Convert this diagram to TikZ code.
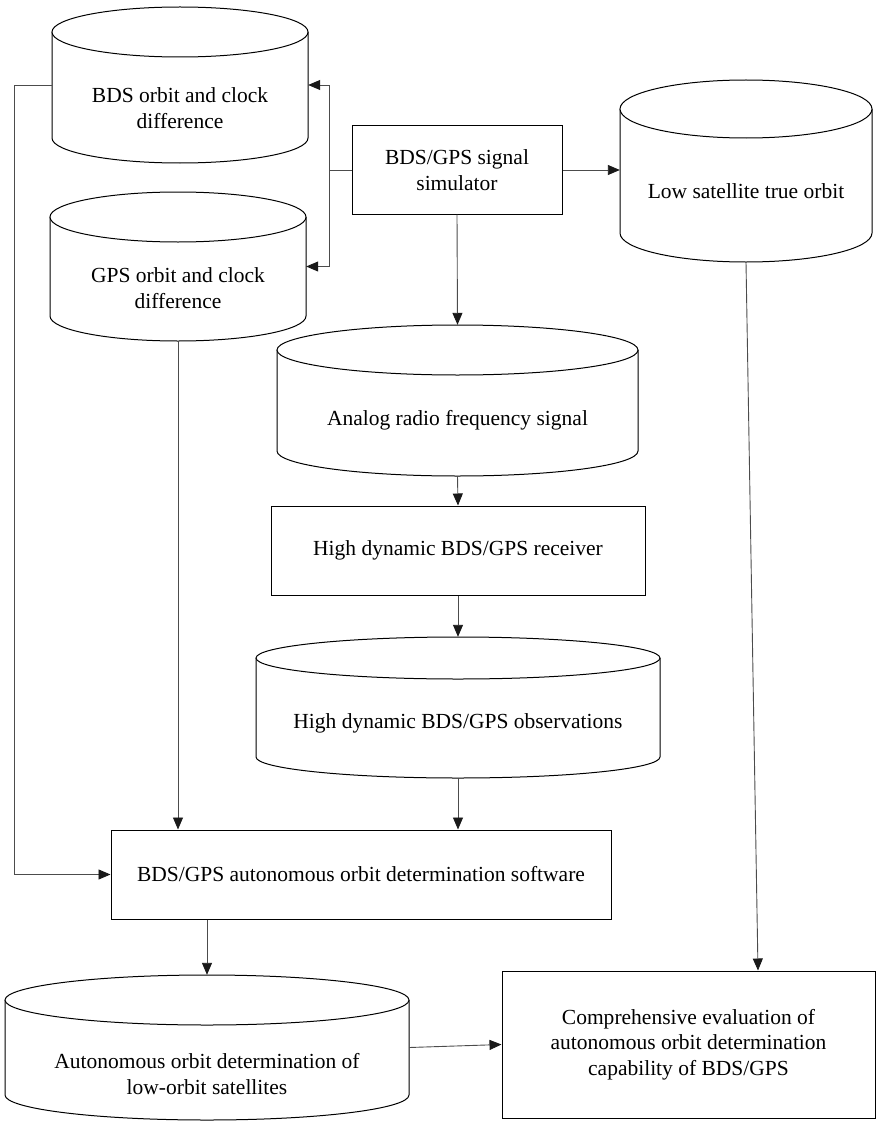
\documentclass[tikz,border=0pt]{standalone}
\usepackage{fontspec}
\setmainfont{Liberation Serif}
\usetikzlibrary{arrows.meta,calc}
\newcommand\dbcyl[8]{%
  \pgfmathsetmacro\cylcx{(#2+#3)/2}%
  \pgfmathsetmacro\cylrx{(#3-#2)/2}%
  \pgfmathsetmacro\cylyu{-(#4+#6)}%
  \pgfmathsetmacro\cylyl{-(#5-#6)}%
  \pgfmathsetmacro\cylcy{-(#4+#5)/2}%
  \pgfmathsetmacro\cylhh{#5-#4}%
  \pgfmathsetmacro\cylww{#3-#2}%
  \draw[shapeline] (#2,\cylyu) -- (#2,\cylyl) arc[start angle=180,end angle=360,x radius=\cylrx,y radius=#6] -- (#3,\cylyu);
  \draw[shapeline] (\cylcx,\cylyu) ellipse[x radius=\cylrx,y radius=#6];
  \node[inner sep=0pt,minimum width=\cylww pt,minimum height=\cylhh pt] (#1) at (\cylcx,\cylcy) {};
  \node[lbl] (#1-t) at (\cylcx,-#7) {#8};
}
\begin{document}
\begin{tikzpicture}[x=1pt,y=1pt,
  shapeline/.style={draw=black,line width=1pt,fill=white},
  lbl/.style={align=center,inner sep=0pt,font=\fontsize{21.5}{25.5}\selectfont},
  box/.style={draw=black,line width=1pt,fill=white,align=center,inner sep=0pt,font=\fontsize{21.5}{25.5}\selectfont},
  conn/.style={draw=black!70,line width=0.9pt},
  arr/.style={conn,-{Triangle[length=12pt,width=10pt,color=black!90]}}]
\useasboundingbox (0,0) rectangle (880,-1121);
% cylinders
\dbcyl{bds}{52}{308}{7}{163}{25}{108}{BDS orbit and clock\\difference}
\dbcyl{gps}{50}{306}{192}{341}{25}{288}{GPS orbit and clock\\difference}
\dbcyl{low}{620}{872}{80}{262}{29}{191}{Low satellite true orbit}
\dbcyl{ana}{277}{638}{325}{476}{25}{420}{Analog radio frequency signal}
\dbcyl{obs}{256}{660}{637}{778}{21}{723}{High dynamic BDS/GPS observations}
\dbcyl{auto}{5}{409}{975}{1120}{25}{1074}{Autonomous orbit determination of\\low-orbit satellites}
% boxes
\node[box,minimum width=210pt,minimum height=88pt] (sim) at (457,-170) {BDS/GPS signal\\simulator};
\node[box,minimum width=374pt,minimum height=89pt] (rec) at (458,-550.5) {High dynamic BDS/GPS receiver};
\node[box,minimum width=500pt,minimum height=89pt] (soft) at (361,-874.5) {BDS/GPS autonomous orbit determination software};
\node[box,minimum width=373pt,minimum height=147pt] (eval) at (688.5,-1044.5) {Comprehensive evaluation of\\autonomous orbit determination\\capability of BDS/GPS};
% connectors
\draw[conn] (sim.west) -- ++(-22,0) coordinate (j);
\draw[arr] (j) |- (bds.east);
\draw[arr] (j) |- (gps.east);
\draw[arr] (sim.east) -- (sim.east -| low.west);
\draw[arr] (sim.south) -- (ana.north);
\draw[arr] (ana.south) -- (rec.north);
\draw[arr] (rec.south) -- (obs.north);
\draw[arr] (obs.south) -- (obs.south |- soft.north);
\draw[arr] (gps.south) -- (gps.south |- soft.north);
\draw[arr] (bds.west) -- ++(-37,0) |- (soft.west);
\draw[arr] (auto.north |- soft.south) -- (auto.north);
\draw[arr] (auto.east) -- (eval.west);
\draw[arr] (low.south) -- ([xshift=69.5pt]eval.north);
\end{tikzpicture}
\end{document}
